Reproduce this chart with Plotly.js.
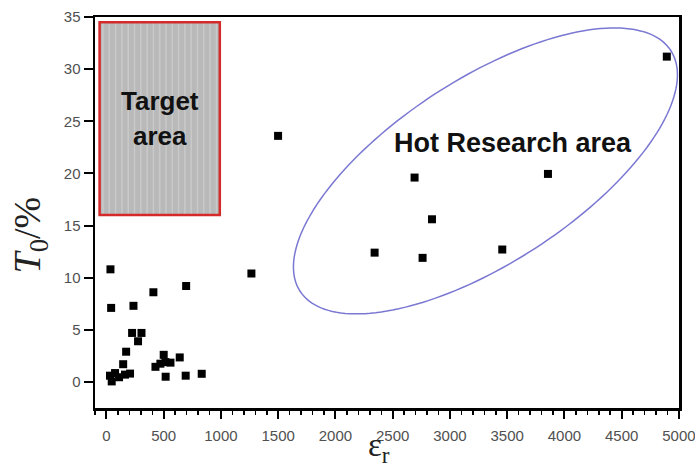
<!DOCTYPE html>
<html>
<head>
<meta charset="utf-8">
<script src="https://cdn.plot.ly/plotly-3.0.1.min.js"></script>
<style>
  html, body { margin: 0; padding: 0; background: #ffffff; }
  #chart { width: 695px; height: 471px; }
</style>
</head>
<body>
<div id="chart"></div>
<script>
// Relative permittivity (εr) of each material
const epsR = [35, 696, 410, 41, 236, 224, 306, 276, 172, 146,
              500, 640, 428, 471, 515, 559, 517, 692, 832,
              31, 75, 46, 110, 162, 206,
              1266, 1499, 2691, 2843, 2342, 2761, 3457, 3856, 4894];
// Transmittance T0 (%) of each material
const t0 = [10.8, 9.2, 8.6, 7.1, 7.3, 4.7, 4.7, 3.9, 2.9, 1.7,
            2.6, 2.35, 1.45, 1.75, 1.9, 1.85, 0.5, 0.6, 0.78,
            0.6, 0.85, 0.05, 0.45, 0.7, 0.8,
            10.4, 23.6, 19.6, 15.6, 12.4, 11.9, 12.7, 19.95, 31.2];

// Axis ranges
const xRange = [-100, 5000.5];
const yRange = [-2.5, 35];

// Target region (εr, T0 bounds)
const targetX = [-60, 990];
const targetY = [16, 34.5];

const W = 695, H = 471;
const margin = { l: 95, r: 16, t: 17, b: 63 };
const plotW = W - margin.l - margin.r;
const plotH = H - margin.t - margin.b;
const kx = plotW / (xRange[1] - xRange[0]);  // px per εr unit
const ky = plotH / (yRange[1] - yRange[0]);  // px per T0 unit

// Tilted ellipse around the high-permittivity group, defined on screen
// (semi-axes in px, tilt in degrees) and mapped back to data units.
function ellipsePath(cx, cy, aPx, bPx, tiltDeg, n) {
  const th = tiltDeg * Math.PI / 180;
  let d = '';
  for (let i = 0; i <= n; i++) {
    const t = 2 * Math.PI * i / n;
    const u = aPx * Math.cos(t) * Math.cos(th) - bPx * Math.sin(t) * Math.sin(th);
    const v = aPx * Math.cos(t) * Math.sin(th) + bPx * Math.sin(t) * Math.cos(th);
    const x = cx + u / kx, y = cy + v / ky;
    d += (i === 0 ? 'M' : 'L') + x.toFixed(2) + ',' + y.toFixed(3);
  }
  return d + 'Z';
}

// Faint vertical striping inside the target box
const stripes = [];
for (let x = targetX[0] + 30; x < targetX[1] - 10; x += 55) {
  stripes.push({
    type: 'line', xref: 'x', yref: 'y', layer: 'below',
    x0: x, x1: x, y0: targetY[0] + 0.15, y1: targetY[1] - 0.15,
    line: { color: 'rgba(215,215,215,0.55)', width: 1.5 }
  });
}

const trace = {
  type: 'scatter', mode: 'markers',
  x: epsR, y: t0,
  marker: { symbol: 'square', size: 8, color: '#000000', line: { width: 0 } },
  hoverinfo: 'x+y', showlegend: false
};

const tickFont = { family: 'Liberation Sans, Arial, sans-serif', size: 15, color: '#505050' };

const layout = {
  width: W, height: H,
  margin: margin,
  paper_bgcolor: '#ffffff', plot_bgcolor: '#ffffff',
  showlegend: false,
  xaxis: {
    range: xRange, autorange: false,
    tickmode: 'linear', tick0: 0, dtick: 500,
    ticks: 'outside', ticklen: 8, tickwidth: 2, tickcolor: '#000',
    minor: { dtick: 100, tick0: 0, ticks: 'outside', ticklen: 4, tickwidth: 1.5, tickcolor: '#000' },
    showline: true, linecolor: '#000', linewidth: 2.5, mirror: true,
    showgrid: false, zeroline: false,
    tickfont: tickFont, ticklabelstandoff: 4, ticklabeloverflow: 'allow'
  },
  yaxis: {
    range: yRange, autorange: false,
    tickmode: 'linear', tick0: 0, dtick: 5,
    ticks: 'outside', ticklen: 9, tickwidth: 2, tickcolor: '#000',
    showline: true, linecolor: '#000', linewidth: 2.5, mirror: true,
    showgrid: false, zeroline: false,
    tickfont: tickFont
  },
  shapes: [
    {
      type: 'rect', xref: 'x', yref: 'y', layer: 'below',
      x0: targetX[0], x1: targetX[1], y0: targetY[0], y1: targetY[1],
      fillcolor: '#b9b9b9', line: { color: '#d42a2a', width: 2.5 }
    },
    ...stripes,
    {
      type: 'path', xref: 'x', yref: 'y', layer: 'above',
      path: ellipsePath(3310, 20.24, 221, 92, 33, 180),
      line: { color: '#7a78d2', width: 1.5 }
    }
  ],
  annotations: [
    {
      xref: 'x', yref: 'y', x: 470, y: 26.9, text: '<b>Target</b>', showarrow: false,
      xanchor: 'center', yanchor: 'middle',
      font: { family: 'Liberation Sans, Arial, sans-serif', size: 26, color: '#111' }
    },
    {
      xref: 'x', yref: 'y', x: 470, y: 23.6, text: '<b>area</b>', showarrow: false,
      xanchor: 'center', yanchor: 'middle',
      font: { family: 'Liberation Sans, Arial, sans-serif', size: 26, color: '#111' }
    },
    {
      xref: 'x', yref: 'y', x: 2491, y: 22.9, text: '<b>Hot Research area</b>', showarrow: false,
      xanchor: 'left', yanchor: 'middle',
      font: { family: 'Liberation Sans, Arial, sans-serif', size: 27, color: '#111' }
    },
    {
      xref: 'paper', yref: 'paper', x: 0.487, y: -0.1, text: 'ε<sub>r</sub>', showarrow: false,
      xanchor: 'center', yanchor: 'middle',
      font: { family: 'Liberation Serif, Times New Roman, serif', size: 33, color: '#222' }
    },
    {
      xref: 'paper', yref: 'paper', x: -0.112, y: 0.443, text: '<i>T</i><sub>0</sub>/%', showarrow: false,
      textangle: -90, xanchor: 'center', yanchor: 'middle',
      font: { family: 'Liberation Serif, Times New Roman, serif', size: 38, color: '#222' }
    }
  ]
};

Plotly.newPlot('chart', [trace], layout, { displayModeBar: false, staticPlot: true });
</script>
</body>
</html>
